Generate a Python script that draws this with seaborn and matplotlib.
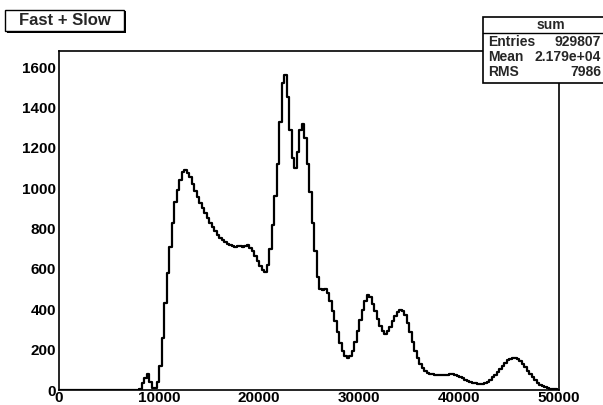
import numpy as np
import pandas as pd
import matplotlib
matplotlib.use("Agg")
import matplotlib.pyplot as plt
from matplotlib.patches import Rectangle
from matplotlib.ticker import MultipleLocator
import seaborn as sns

# ---- data (bins of width 250 from 0 to 50000) ----
bin_width = 250
x_min, x_max = 0, 50000
counts = [
    # 0 - 7750
    0, 0, 0, 0, 0, 0, 0, 0, 0, 0, 0, 0, 0, 0, 0, 0,
    0, 0, 0, 0, 0, 0, 0, 0, 0, 0, 0, 0, 0, 0, 0, 0,
    # 8000 - 9750
    5, 35, 60, 80, 40, 8, 12, 40,
    # 10000 - 11750
    120, 260, 430, 580, 710, 830, 930, 990,
    # 12000 - 13750
    1040, 1080, 1090, 1075, 1055, 1020, 985, 955,
    # 14000 - 15750
    925, 900, 875, 850, 830, 810, 790, 770,
    # 16000 - 17750
    755, 745, 735, 725, 720, 715, 710, 715,
    # 18000 - 19750
    712, 708, 715, 718, 705, 690, 665, 640,
    # 20000 - 21750
    615, 595, 585, 620, 700, 820, 960, 1120,
    # 22000 - 23750
    1330, 1520, 1560, 1450, 1290, 1150, 1100, 1180,
    # 24000 - 25750
    1290, 1320, 1250, 1120, 980, 830, 690, 560,
    # 26000 - 27750
    500, 495, 500, 480, 440, 390, 340, 285,
    # 28000 - 29750
    235, 195, 170, 160, 170, 195, 240, 290,
    # 30000 - 31750
    345, 395, 440, 470, 460, 425, 390, 350,
    # 32000 - 33750
    315, 290, 280, 290, 310, 340, 365, 385,
    # 34000 - 35750
    395, 390, 370, 330, 285, 240, 195, 160,
    # 36000 - 37750
    130, 110, 95, 85, 80, 78, 75, 75,
    # 38000 - 39750
    74, 75, 76, 76, 77, 78, 75, 70,
    # 40000 - 41750
    65, 60, 52, 46, 40, 36, 33, 30,
    # 42000 - 43750
    30, 31, 35, 42, 50, 62, 75, 90,
    # 44000 - 45750
    105, 120, 135, 147, 155, 160, 160, 155,
    # 46000 - 47750
    145, 130, 112, 95, 78, 62, 48, 36,
    # 48000 - 49750
    27, 20, 14, 10, 7, 5, 3, 2,
]
title_text = "Fast + Slow"
stats_name = "sum"
stats_labels = ["Entries", "Mean", "RMS"]
stats_values = ["929807", "2.179e+04", "7986"]
x_ticks = [0, 10000, 20000, 30000, 40000, 50000]
y_ticks = [0, 200, 400, 600, 800, 1000, 1200, 1400, 1600]

n_bins = len(counts)
centers = x_min + bin_width * (np.arange(n_bins) + 0.5)
df = pd.DataFrame({"x": centers, "w": np.asarray(counts, dtype=float)})

sns.set_theme(style="white")
plt.rcParams["font.family"] = ["Liberation Sans", "DejaVu Sans"]
plt.rcParams["font.weight"] = "bold"

W, H = 603, 405
fig = plt.figure(figsize=(W / 100, H / 100), dpi=100)
fig.patch.set_facecolor("white")

def fx(px):
    return px / W

def fy(py):
    return 1 - py / H

ax = fig.add_axes([fx(59), fy(390), fx(559) - fx(59), fy(51) - fy(390)])
sns.histplot(data=df, x="x", weights="w", bins=n_bins, binrange=(x_min, x_max),
             element="step", fill=False, color="black", linewidth=1.6, ax=ax)
ax.set_xlim(x_min, x_max)
ax.set_ylim(0, 1680)
ax.set_xlabel("")
ax.set_ylabel("")
ax.set_xticks(x_ticks)
ax.set_yticks(y_ticks)
ax.xaxis.set_minor_locator(MultipleLocator(5000))
ax.yaxis.set_minor_locator(MultipleLocator(50))
ax.tick_params(axis="both", which="both", direction="in", colors="black",
               labelsize=11, width=1.0)
ax.tick_params(axis="y", which="major", length=8, pad=2)
ax.tick_params(axis="y", which="minor", length=4)
ax.tick_params(axis="x", which="major", length=7, pad=1)
ax.tick_params(axis="x", which="minor", length=4)
ax.tick_params(top=False, right=False, which="both")
for lab in ax.get_xticklabels() + ax.get_yticklabels():
    lab.set_fontweight("bold")
for s in ax.spines.values():
    s.set_color("black")
    s.set_linewidth(1.2)
    s.set_visible(True)

# ---- title box (ROOT style with shadow) ----
fig.patches.append(Rectangle((fx(7), fy(33)), fx(126) - fx(7), fy(11) - fy(33),
                             transform=fig.transFigure, facecolor="black",
                             edgecolor="black", linewidth=0, zorder=5))
fig.patches.append(Rectangle((fx(5), fy(31)), fx(124) - fx(5), fy(10) - fy(31),
                             transform=fig.transFigure, facecolor="white",
                             edgecolor="black", linewidth=1.0, zorder=6))
fig.text(fx(65), fy(20.5), title_text, ha="center", va="center",
         fontsize=12, fontweight="bold", zorder=7)

# ---- stats box ----
bx0, bx1, by0, by1 = 483, 640, 17, 83
fig.patches.append(Rectangle((fx(bx0), fy(by1)), fx(bx1) - fx(bx0), fy(by0) - fy(by1),
                             transform=fig.transFigure, facecolor="white",
                             edgecolor="black", linewidth=1.2, zorder=6))
fig.lines.append(plt.Line2D([fx(bx0), fx(bx1)], [fy(33), fy(33)],
                            transform=fig.transFigure, color="black",
                            linewidth=1.0, zorder=7))
fig.text(fx(551), fy(25), stats_name, ha="center", va="center",
         fontsize=10, fontweight="bold", zorder=8)
rows_y = [42, 57, 72]
for lab, val, yy in zip(stats_labels, stats_values, rows_y):
    fig.text(fx(488), fy(yy), lab, ha="left", va="center",
             fontsize=10, fontweight="bold", zorder=8)
    fig.text(fx(601), fy(yy), val, ha="right", va="center",
             fontsize=10, fontweight="bold", zorder=8)

fig.savefig("out.png", dpi=100, facecolor="white")
